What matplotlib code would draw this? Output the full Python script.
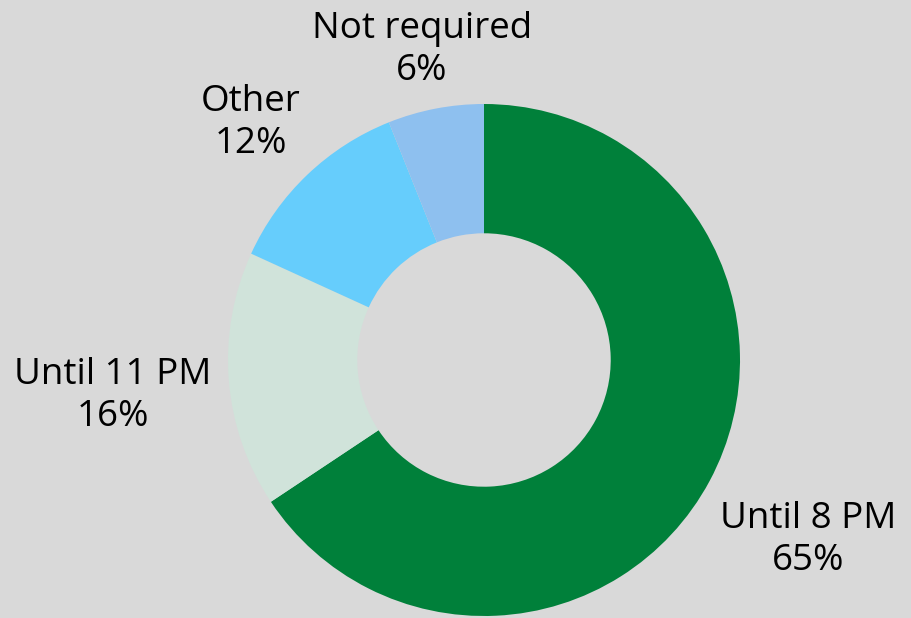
import matplotlib
matplotlib.use("Agg")
import matplotlib.pyplot as plt
import numpy as np

labels = ["Until 8 PM", "Until 11 PM", "Other", "Not required"]
values = [65, 16, 12, 6]
colors = ["#00803A", "#D0E3DA", "#66CDFC", "#8EC0EF"]

plt.rcParams['font.family'] = ['Open Sans', 'DejaVu Sans']

fig = plt.figure(figsize=(9.11, 6.18), dpi=100)
bg = "#D9D9D9"
fig.patch.set_facecolor(bg)
ax = fig.add_axes([0, 0, 1, 1])
ax.set_facecolor(bg)

wedges, _ = ax.pie(values, colors=colors, startangle=90, counterclock=False,
                   radius=1.0, wedgeprops=dict(width=0.505, linewidth=0),
                   center=(0, 0))

ax.set_xlim(-484 / 256, (911 - 484) / 256)
ax.set_ylim((360 - 618) / 256, 360 / 256)
ax.set_aspect('equal')
ax.axis('off')

# label positions (pixels of centre of text block)
label_px = [(808, 540), (113, 396), (251, 123), (422, 50)]
for lab, v, (px, py) in zip(labels, values, label_px):
    x = (px - 484) / 256
    y = (360 - py) / 256
    ax.text(x, y, f"{lab}\n{v}%", ha='center', va='center', fontsize=26.5,
            color='black', linespacing=1.25)

fig.savefig("out.png", dpi=100, facecolor=bg)
